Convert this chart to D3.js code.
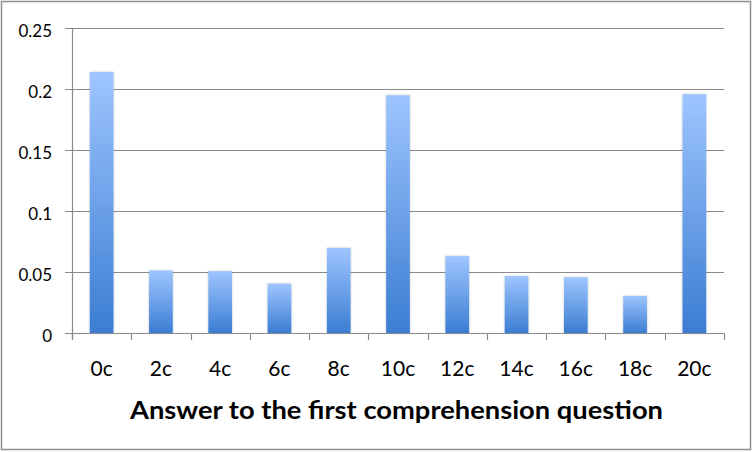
<!DOCTYPE html>
<html lang="en">
<head>
<meta charset="utf-8">
<title>Answer to the first comprehension question</title>
<script src="https://d3js.org/d3.v7.min.js"></script>
<style>
  body { margin: 0; background: #fff; }
  svg text { fill: #000; font-family: Lato, 'Open Sans', sans-serif; }
</style>
</head>
<body>
<div id="chart"></div>
<script>
var categories = ["0c", "2c", "4c", "6c", "8c", "10c", "12c", "14c", "16c", "18c", "20c"];
var shares = [0.214, 0.0512, 0.0507, 0.0405, 0.0698, 0.1949, 0.063, 0.0466, 0.0457, 0.0304, 0.1957];
var yTicks = [0, 0.05, 0.1, 0.15, 0.2, 0.25];
var yTickLabels = ["0", "0.05", "0.1", "0.15", "0.2", "0.25"];
var xTitle = "Answer to the first comprehension question";

var w = 753, h = 452;
var plotLeft = 72, plotRight = 724, plotTop = 28, plotBottom = 333;

var svg = d3.select("#chart").append("svg")
  .attr("width", w)
  .attr("height", h);

// outer frame
svg.append("rect")
  .attr("x", 1.5).attr("y", 1.5)
  .attr("width", 749).attr("height", 448)
  .attr("fill", "#fff")
  .attr("stroke", "#8e8e8e")
  .attr("stroke-width", 1.5);

var defs = svg.append("defs");
var grad = defs.append("linearGradient")
  .attr("id", "barGrad")
  .attr("x1", 0).attr("y1", 0).attr("x2", 0).attr("y2", 1);
grad.append("stop").attr("offset", "0%").attr("stop-color", "#9ec5ff");
grad.append("stop").attr("offset", "100%").attr("stop-color", "#3b7dd2");

var shadow = defs.append("filter").attr("id", "shadow")
  .attr("x", "-20%").attr("y", "-5%").attr("width", "140%").attr("height", "110%");
shadow.append("feGaussianBlur").attr("in", "SourceAlpha").attr("stdDeviation", 1.2);
shadow.append("feComponentTransfer").append("feFuncA").attr("type", "linear").attr("slope", 0.25);
var merge = shadow.append("feMerge");
merge.append("feMergeNode");
merge.append("feMergeNode").attr("in", "SourceGraphic");

var x = d3.scaleBand()
  .domain(categories)
  .range([plotLeft, plotRight])
  .paddingInner(0.6)
  .paddingOuter(0.3);

var y = d3.scaleLinear()
  .domain([0, 0.25])
  .range([plotBottom, plotTop]);

// gridlines
svg.append("g")
  .selectAll("line")
  .data(yTicks)
  .enter()
  .append("line")
  .attr("x1", plotLeft - 7)
  .attr("x2", plotRight)
  .attr("y1", function(d) { return Math.round(y(d)) + 0.5; })
  .attr("y2", function(d) { return Math.round(y(d)) + 0.5; })
  .attr("stroke", "#8a8a8a")
  .attr("stroke-width", 1.2);

// y labels
svg.append("g")
  .selectAll("text")
  .data(yTicks)
  .enter()
  .append("text")
  .attr("x", 52)
  .attr("y", function(d) { return y(d) + 2.5; })
  .attr("dy", "0.36em")
  .attr("text-anchor", "end")
  .style("font-size", "17px")
  .text(function(d, i) { return yTickLabels[i]; });

// bars
svg.append("g")
  .selectAll("rect")
  .data(shares)
  .enter()
  .append("rect")
  .attr("x", function(d, i) { return x(categories[i]); })
  .attr("y", function(d) { return y(d); })
  .attr("width", x.bandwidth())
  .attr("height", function(d) { return plotBottom - y(d); })
  .attr("fill", "url(#barGrad)")
  .attr("filter", "url(#shadow)");

// y axis line
svg.append("line")
  .attr("x1", plotLeft + 0.5).attr("x2", plotLeft + 0.5)
  .attr("y1", plotTop).attr("y2", plotBottom + 7)
  .attr("stroke", "#8a8a8a").attr("stroke-width", 1.2);

// x axis line and category ticks
svg.append("line")
  .attr("x1", plotLeft).attr("x2", plotRight)
  .attr("y1", Math.round(y(0)) + 0.5).attr("y2", Math.round(y(0)) + 0.5)
  .attr("stroke", "#8a8a8a").attr("stroke-width", 1.2);

var bounds = d3.range(categories.length + 1).map(function(i) {
  return plotLeft + i * (plotRight - plotLeft) / categories.length;
});
svg.append("g")
  .selectAll("line")
  .data(bounds)
  .enter()
  .append("line")
  .attr("x1", function(d) { return Math.round(d) + 0.5; })
  .attr("x2", function(d) { return Math.round(d) + 0.5; })
  .attr("y1", plotBottom)
  .attr("y2", plotBottom + 7)
  .attr("stroke", "#8a8a8a").attr("stroke-width", 1.2);

// x labels
svg.append("g")
  .selectAll("text")
  .data(categories)
  .enter()
  .append("text")
  .attr("x", function(d) { return x(d) + x.bandwidth() / 2; })
  .attr("y", 368)
  .attr("dy", "0.36em")
  .attr("text-anchor", "middle")
  .style("font-size", "21px")
  .text(function(d) { return d; });

// axis title
var title = svg.append("text")
  .attr("x", (130 + 663) / 2)
  .attr("y", 410)
  .attr("dy", "0.36em")
  .attr("text-anchor", "middle")
  .style("font-weight", "bold")
  .style("font-size", "24px")
  .text(xTitle);

if (title.node().getComputedTextLength() > 0) {
  title.attr("textLength", 533).attr("lengthAdjust", "spacingAndGlyphs");
}
</script>
</body>
</html>
